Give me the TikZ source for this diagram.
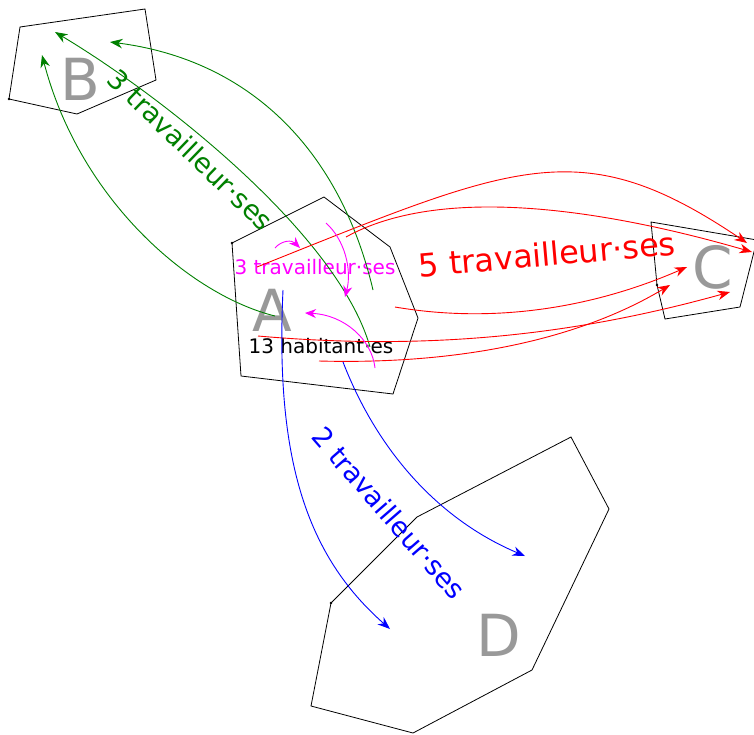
\documentclass[tikz,border=0pt]{standalone}
\usepackage{fontspec}
\setmainfont{DejaVu Sans}
\usetikzlibrary{arrows.meta}
\definecolor{lettergray}{RGB}{153,153,153}
\definecolor{flowgreen}{RGB}{0,128,0}
\definecolor{flowmagenta}{RGB}{255,0,255}
\definecolor{flowred}{RGB}{255,0,0}
\definecolor{flowblue}{RGB}{0,0,255}
\begin{document}
\begin{tikzpicture}[x=1pt,y=-1pt,
  region/.style={draw=black, line width=0.8pt, line join=miter},
  corner/.style={fill=black},
  letter/.style={text=lettergray, font=\fontsize{58}{60}\selectfont, inner sep=0pt},
  smalltext/.style={font=\fontsize{20}{24}\selectfont, inner sep=0pt},
  bigtext/.style={font=\fontsize{27}{30}\selectfont, inner sep=0pt},
  flow/.style={line width=0.9pt, -{Stealth[length=12.5pt,width=9.5pt,inset=4pt]}},
  gflow/.style={flow, draw=flowgreen},
  rflow/.style={flow, draw=flowred},
  bflow/.style={flow, draw=flowblue},
  mflow/.style={line width=0.9pt, draw=flowmagenta, -{Stealth[length=11pt,width=9pt,inset=3.5pt]}}]
\path[use as bounding box, clip] (0,0) rectangle (754,734);
\fill[white] (0,0) rectangle (754,734);

% regions
\draw[region] (9,99) -- (20,27) -- (145,9) -- (156,80) -- (77,114) -- cycle;
\draw[region] (232,243) -- (324,197) -- (390,247) -- (418,318) -- (393,394) -- (241,376) -- cycle;
\draw[region] (657,285) -- (651,222) -- (757,240) -- (740,307) -- (665,319) -- cycle;
\draw[region] (331,603) -- (417,517) -- (571,437) -- (609,509) -- (532,670) -- (413,733) -- (311,706) -- cycle;
\fill[corner] (9,99) circle (1.4pt);
\fill[corner] (232,243) circle (1.4pt);
\fill[corner] (657,285) circle (1.4pt);
\fill[corner] (331,603) circle (1.4pt);

% region letters
\node[letter] (lblB) at (80,79) {B};
\node[letter] (lblA) at (272,310) {A};
\node[letter] (lblC) at (713,267) {C};
\node[letter] (lblD) at (499,635) {D};

% texts
\node[smalltext, text=black] (pop) at (321,346) {13 habitant·es};
\node[smalltext, text=flowmagenta] (intA) at (315,267) {3 travailleur·ses};
\node[font=\fontsize{32}{36}\selectfont, inner sep=0pt, text=flowred, rotate=5] (toC) at (547,254) {5 travailleur·ses};
\node[bigtext, text=flowgreen, rotate=-44] (toB) at (191,150) {3 travailleur·ses};
\node[bigtext, text=flowblue, rotate=-49] (toD) at (389,513) {2 travailleur·ses};

% endpoints
\coordinate (g1s) at (275,316); \coordinate (g1e) at (42,55);
\coordinate (g2s) at (370,347); \coordinate (g2e) at (55,32);
\coordinate (g3s) at (373,290); \coordinate (g3e) at (110,42);
\coordinate (r1s) at (257,267); \coordinate (r1e) at (747,243);
\coordinate (r2s) at (346,237); \coordinate (r2e) at (752,252);
\coordinate (r3s) at (395,307); \coordinate (r3e) at (687,267);
\coordinate (r4s) at (258,336); \coordinate (r4e) at (730,292);
\coordinate (r5s) at (319,361); \coordinate (r5e) at (670,285);
\coordinate (m1s) at (275,248); \coordinate (m1e) at (300,248);
\coordinate (m2s) at (326,223); \coordinate (m2e) at (345,297);
\coordinate (m3s) at (375,368); \coordinate (m3e) at (305,313);
\coordinate (b1s) at (283,290); \coordinate (b1e) at (390,629);
\coordinate (b2s) at (343,362); \coordinate (b2e) at (525,556);

% flows A -> B
\draw[gflow] (g1s) .. controls (190,295) and (80,200) .. (g1e);
\draw[gflow] (g2s) .. controls (338,235) and (165,98) .. (g2e);
\draw[gflow] (g3s) .. controls (340,150) and (250,60) .. (g3e);

% flows A -> C
\draw[rflow] (r1s) .. controls (517,163) and (581,131) .. (r1e);
\draw[rflow] (r2s) .. controls (440,185) and (600,208) .. (r2e);
\draw[rflow] (r3s) .. controls (500,325) and (600,305) .. (r3e);
\draw[rflow] (r4s) .. controls (440,352) and (586,332) .. (r4e);
\draw[rflow] (r5s) .. controls (469,365) and (585,336) .. (r5e);

% flows inside A
\draw[mflow] (m1s) .. controls (282,240) and (292,240) .. (m1e);
\draw[mflow] (m2s) .. controls (345,240) and (352,270) .. (m2e);
\draw[mflow] (m3s) .. controls (372,340) and (345,315) .. (m3e);

% flows A -> D
\draw[bflow] (b1s) .. controls (275,460) and (307,556) .. (b1e);
\draw[bflow] (b2s) .. controls (379,455) and (442,521) .. (b2e);
\end{tikzpicture}
\end{document}
